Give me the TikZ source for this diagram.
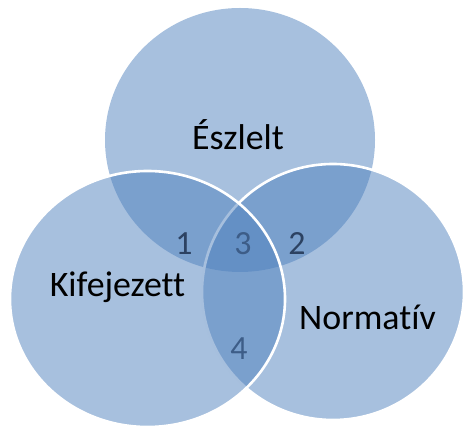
\documentclass[tikz,border=0pt]{standalone}
\usepackage{fontspec}
\setmainfont{Carlito}[Ligatures=NoCommon]
\usetikzlibrary{shapes.geometric}
\definecolor{accent}{HTML}{4F81BD}
\definecolor{numdark}{HTML}{2C4262}
\definecolor{numlight}{HTML}{3D5D88}
\tikzset{
  setnode/.style={ellipse,inner sep=0pt,fill=accent,fill opacity=0.5},
  rim/.style={draw=white,line width=2.6bp},
  setlabel/.style={anchor=base,inner sep=0pt,font=\fontsize{36}{40}\selectfont},
  numlabel/.style={anchor=base,inner sep=0pt,font=\fontsize{34}{38}\selectfont},
}
\begin{document}
\begin{tikzpicture}[line join=bevel,]
\useasboundingbox (0bp,0bp) rectangle (464bp,426bp);
%%
\node (eszlelt) at (240bp,286bp) [setnode,minimum width=270bp,minimum height=264bp] {};
  \node (normativ) at (333bp,134bp) [setnode,rim,minimum width=262bp,minimum height=256bp] {};
  \node (kifejezett) at (147.5bp,127bp) [setnode,rim,minimum width=275bp,minimum height=256bp] {};
  \node (eszlelt text) at (238bp,276bp) [setlabel] {Észlelt};
  \node (kifejezett text) at (117.5bp,129bp) [setlabel] {Kifejezett};
  \node (normativ text) at (367.5bp,96bp) [setlabel] {Normatív};
  \node (n1) at (184bp,171bp) [numlabel,text=numdark] {1};
  \node (n2) at (297bp,171bp) [numlabel,text=numdark] {2};
  \node (n3) at (243bp,171bp) [numlabel,text=numlight] {3};
  \node (n4) at (239bp,66bp) [numlabel,text=numlight] {4};
%
\end{tikzpicture}
\end{document}
